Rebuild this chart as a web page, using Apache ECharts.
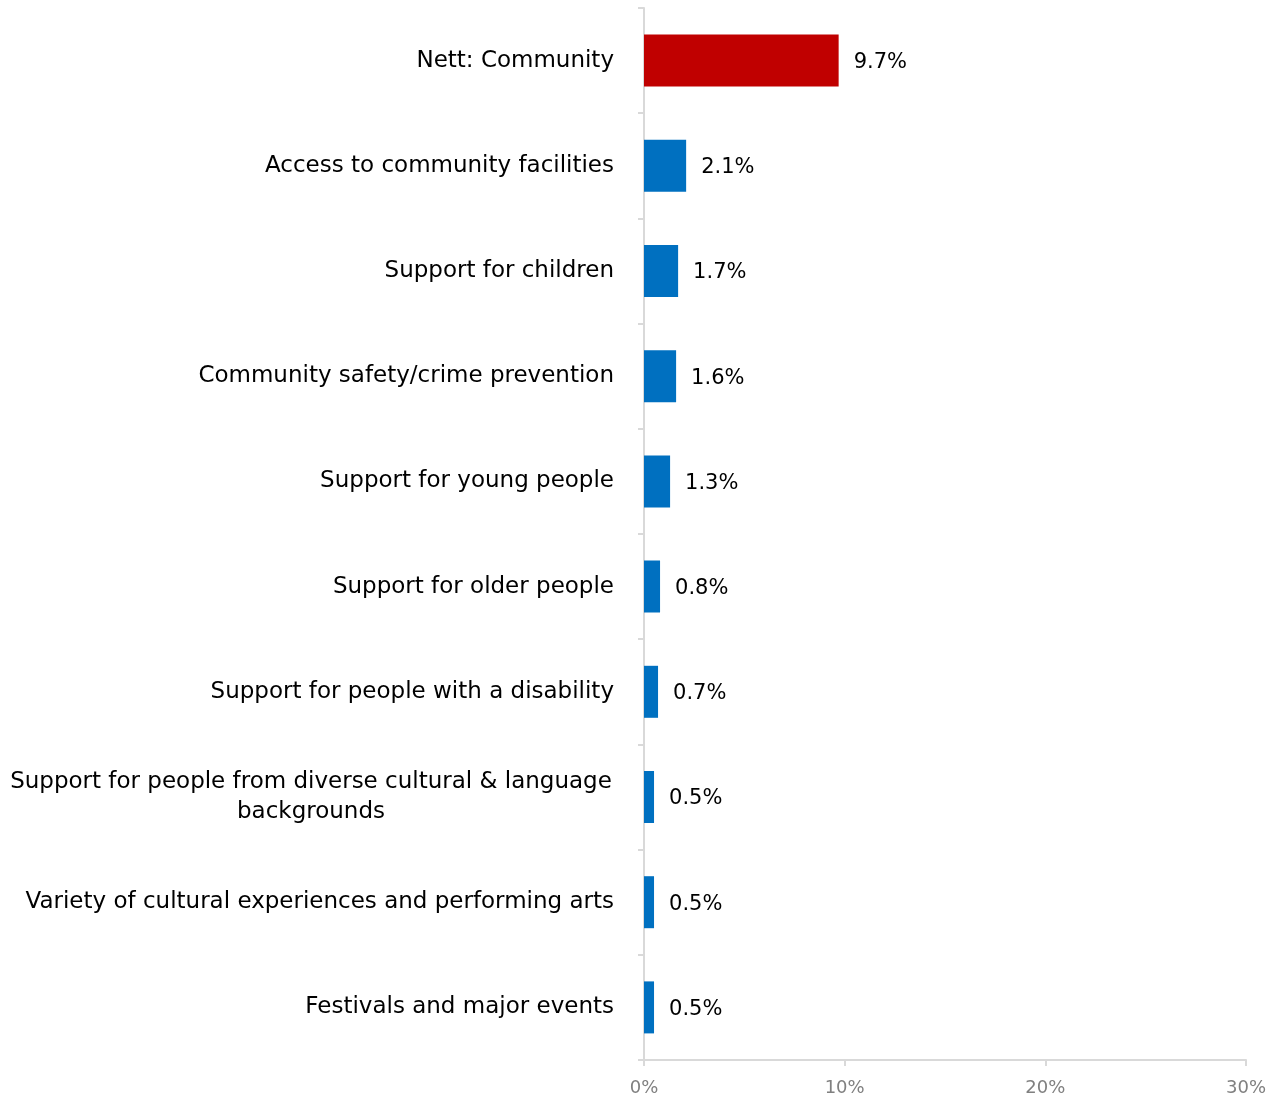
<!DOCTYPE html>
<html>
<head>
<meta charset="utf-8">
<script src="https://cdn.jsdelivr.net/npm/echarts@6/dist/echarts.min.js"></script>
<style>html,body{margin:0;padding:0;background:#fff}#c{width:1275px;height:1101px}</style>
</head>
<body>
<div id="c"></div>
<script>
const categories = [
  "Nett: Community",
  "Access to community facilities",
  "Support for children",
  "Community safety/crime prevention",
  "Support for young people",
  "Support for older people",
  "Support for people with a disability",
  "Support for people from diverse cultural & language\nbackgrounds",
  "Variety of cultural experiences and performing arts",
  "Festivals and major events"
];
const values = [9.7, 2.1, 1.7, 1.6, 1.3, 0.8, 0.7, 0.5, 0.5, 0.5];
const highlightIndex = 0;
const xTicks = [0, 10, 20, 30];

const FONT = "DejaVu Sans";
const chart = echarts.init(document.getElementById('c'), null, {renderer: 'canvas'});
chart.setOption({
  animation: false,
  grid: {left: 644, right: 29, top: 8, bottom: 41, containLabel: false},
  xAxis: {
    type: 'value', min: xTicks[0], max: xTicks[xTicks.length - 1], interval: 10,
    axisLine: {show: true, lineStyle: {color: '#d9d9d9', width: 2}},
    axisTick: {show: true, length: 6, lineStyle: {color: '#d9d9d9', width: 2}},
    splitLine: {show: false},
    axisLabel: {color: '#808080', fontSize: 18, fontFamily: FONT, margin: 19, formatter: v => v + '%'}
  },
  yAxis: {
    type: 'category', inverse: true, data: categories,
    axisLine: {show: true, lineStyle: {color: '#d9d9d9', width: 2}},
    axisTick: {show: true, length: 6, lineStyle: {color: '#d9d9d9', width: 2}},
    axisLabel: {
      color: '#000', fontSize: 23, fontFamily: FONT, margin: 30, align: 'right',
      formatter: v => v.indexOf('\n') >= 0 ? v.split('\n').map(s => '{c|' + s + '}').join('\n') : v,
      rich: {c: {width: 606, align: 'center', fontSize: 23, fontFamily: FONT, color: '#000', lineHeight: 30}}
    }
  },
  series: [{
    type: 'bar', barWidth: 52,
    data: values.map((v, i) => ({value: v, itemStyle: {color: i === highlightIndex ? '#c00000' : '#0070c0'}})),
    label: {show: true, position: 'right', distance: 15, offset: [0, 2], color: '#000', fontSize: 21, fontFamily: FONT, formatter: p => p.value.toFixed(1) + '%'}
  }]
});
</script>
</body>
</html>
